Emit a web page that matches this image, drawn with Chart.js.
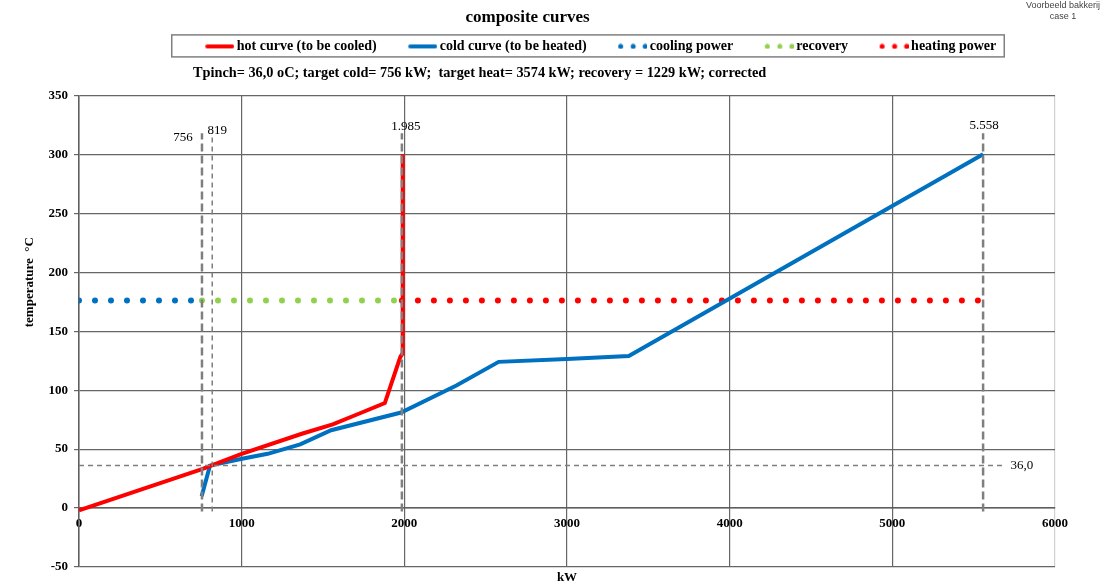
<!DOCTYPE html>
<html>
<head>
<meta charset="utf-8">
<title>composite curves</title>
<script src="https://cdn.jsdelivr.net/npm/chart.js@4.4.1/dist/chart.umd.min.js"></script>
<style>
  html, body { margin: 0; padding: 0; background: #fff; }
  #wrap { width: 1115px; height: 585px; }
</style>
</head>
<body>
<div id="wrap"><canvas id="compositeChart" width="1115" height="585"></canvas></div>
<script>
/* ── composite curves (pinch analysis) ─────────────────── */

const TITLE    = 'composite curves';
const SUBTITLE = 'Tpinch= 36,0 oC; target cold= 756 kW;  target heat= 3574 kW; recovery = 1229 kW; corrected';
const NOTE     = ['Voorbeeld bakkerij', 'case 1'];
const X_TITLE  = 'kW';
const Y_TITLE  = 'temperature  °C';

const X_RANGE = [0, 6000];
const X_STEP  = 1000;
const Y_RANGE = [-50, 350];
const Y_STEP  = 50;

const SERIES_LABELS = [
  'hot curve (to be cooled)', 'cold curve (to be heated)',
  'cooling power', 'recovery', 'heating power',
];

// hot composite curve
const HOT_KW = [0, 756, 1000, 1370, 1560, 1720, 1880, 1975, 1988, 1990];
const HOT_T  = [-2, 33, 46, 63, 71, 80, 89, 128, 131, 300];

// cold composite curve
const COLD_KW = [754, 805, 1010, 1160, 1360, 1550, 1980, 2320, 2580, 3000, 3380, 5558];
const COLD_T  = [10, 36, 42, 46, 54, 66, 81, 104, 124, 126.5, 129, 300];

// duty bars (dotted)
const DUTY_T      = 176;
const COOLING_KW  = [0, 756];
const RECOVERY_KW = [756, 1985];
const HEATING_KW  = [1985, 5558];

// pinch + target markers
const PINCH_T       = 36;
const PINCH_KW      = [0, 5690];
const PINCH_LABEL   = '36,0';
const MARKER_KW     = [756, 819, 1985, 5558];
const MARKER_LABELS = ['756', '819', '1.985', '5.558'];
const MARKER_T      = [-3, 318];

const C = {
  red:   '#ff0000',
  blue:  '#0070c0',
  green: '#92d050',
  gray:  '#7f7f7f',
  grid:  '#666666',
  frame: '#d0d0d0',
};
const SERIF = "'Liberation Serif', 'Times New Roman', serif";
const SANS  = "'Liberation Sans', Arial, sans-serif";

// legend icon geometry
const ICON_BOX = 46;

const pts = (xs, ys) => xs.map((x, i) => ({ x, y: ys[i] }));
const flat = (xs, v) => xs.map(x => ({ x, y: v }));

function legendIcon(color, dotted) {
  const c = document.createElement('canvas');
  c.width = ICON_BOX + 9; c.height = 6;
  const g = c.getContext('2d');
  const x0 = c.width - 29;
  g.fillStyle = color; g.strokeStyle = color;
  if (dotted) {
    [2.5, 15, 27].forEach(dx => { g.beginPath(); g.arc(x0 + dx, 3, 2.5, 0, Math.PI * 2); g.fill(); });
  } else {
    g.lineWidth = 4; g.lineCap = 'round';
    g.beginPath(); g.moveTo(x0 + 2, 3); g.lineTo(x0 + 27, 3); g.stroke();
  }
  return c;
}
const ICONS = [
  legendIcon(C.red, false), legendIcon(C.blue, false),
  legendIcon(C.blue, true), legendIcon(C.green, true), legendIcon(C.red, true),
];

function dots(label, xs, color) {
  return {
    label, data: flat(xs, DUTY_T), borderColor: color, backgroundColor: color,
    borderWidth: 6, borderDash: [0, 16], borderCapStyle: 'round', pointRadius: 0, order: 2,
  };
}
function marker(data, thick) {
  return {
    label: '', data, borderColor: C.gray, pointRadius: 0, order: 0,
    borderWidth: thick ? 2.5 : 1.5, borderDash: thick ? [8, 4] : [5, 4],
  };
}

const datasets = [
  { label: SERIES_LABELS[0], data: pts(HOT_KW, HOT_T), borderColor: C.red, borderWidth: 4, pointRadius: 0, order: 1 },
  { label: SERIES_LABELS[1], data: pts(COLD_KW, COLD_T), borderColor: C.blue, borderWidth: 4, pointRadius: 0, order: 1 },
  dots(SERIES_LABELS[2], COOLING_KW, C.blue),
  dots(SERIES_LABELS[3], RECOVERY_KW, C.green),
  dots(SERIES_LABELS[4], HEATING_KW, C.red),
  marker(flat(PINCH_KW, PINCH_T), false),
  ...MARKER_KW.map((kw, i) => marker(flat(MARKER_T, kw).map(p => ({ x: p.y, y: p.x })), i !== 1)),
];

// ── reserve room below the legend for the target line,
//    and nudge the legend a bit right like the original ──
const legendGap = {
  id: 'legendGap',
  beforeInit(chart) {
    const fit = chart.legend.fit;
    chart.legend.fit = function () { fit.call(this); this.height += 32; };
  },
  afterLayout(chart) {
    chart.legend.left += 23;
    chart.legend.right += 23;
  },
};

// ── texts and legend frame ──────────────────────────────
const annotations = {
  id: 'annotations',
  afterDraw(chart) {
    const { ctx, scales: { x, y }, legend, chartArea } = chart;
    ctx.save();

    // legend frame
    const hb = legend.legendHitBoxes;
    const last = hb[hb.length - 1];
    const fx = hb[0].left - 12, fy = hb[0].top - 4.5;
    ctx.strokeStyle = '#808080'; ctx.lineWidth = 1.5;
    ctx.strokeRect(fx, fy, last.left + last.width + 8 - fx, 22);

    // target line under the legend
    ctx.fillStyle = '#000'; ctx.textBaseline = 'middle'; ctx.textAlign = 'left';
    ctx.font = `bold 14.3px ${SERIF}`;
    ctx.fillText(SUBTITLE, 193, fy + 38);

    // y axis title
    ctx.save();
    ctx.font = `bold 13px ${SERIF}`;
    ctx.translate(30, (chartArea.top + chartArea.bottom) / 2 - 49);
    ctx.rotate(-Math.PI / 2);
    ctx.textAlign = 'center';
    ctx.fillText(Y_TITLE, 0, 0);
    ctx.restore();

    // marker labels
    ctx.font = `13px ${SERIF}`;
    const dx = [-19, 5, 4, 1], dy = [4, -3, -7, -8];
    MARKER_KW.forEach((kw, i) => {
      ctx.textAlign = 'center';
      ctx.fillText(MARKER_LABELS[i], x.getPixelForValue(kw) + dx[i], y.getPixelForValue(MARKER_T[1]) + dy[i]);
    });
    ctx.textAlign = 'left';
    ctx.fillText(PINCH_LABEL, x.getPixelForValue(PINCH_KW[1]) + 6, y.getPixelForValue(PINCH_T));

    // corner note
    ctx.font = `9px ${SANS}`; ctx.fillStyle = '#444'; ctx.textAlign = 'center';
    NOTE.forEach((t, i) => ctx.fillText(t, 1063, 6 + i * 11));

    ctx.restore();
  },
};

new Chart(document.getElementById('compositeChart'), {
  type: 'line',
  data: { datasets },
  plugins: [legendGap, annotations],
  options: {
    responsive: false,
    animation: false,
    events: [],
    layout: { padding: { top: 0, left: 0, right: 60, bottom: 0 } },
    elements: { line: { tension: 0, fill: false } },
    plugins: {
      title: {
        display: true, text: TITLE, color: '#000',
        font: { family: SERIF, size: 17, weight: 'bold' },
        padding: { top: 7, bottom: 2 },
      },
      legend: {
        display: true, position: 'top', fullSize: false,
        labels: {
          usePointStyle: true, pointStyleWidth: ICON_BOX, padding: 10, color: '#000',
          font: { family: SERIF, size: 14, weight: 'bold' },
          generateLabels: chart => chart.data.datasets.slice(0, 5).map((ds, i) => ({
            text: ds.label, pointStyle: ICONS[i], datasetIndex: i, hidden: false,
            fillStyle: 'transparent', strokeStyle: 'transparent', lineWidth: 0, fontColor: '#000',
          })),
        },
      },
      tooltip: { enabled: false },
    },
    scales: {
      x: {
        type: 'linear', position: { y: 0 },
        min: X_RANGE[0], max: X_RANGE[1],
        afterFit: s => { s.height = 0; },
        grid: {
          drawTicks: false, lineWidth: 1.2,
          color: c => (c.tick && c.tick.value === X_RANGE[1] ? C.frame : C.grid),
        },
        border: { display: true, color: '#5e5e5e', width: 1.5 },
        ticks: {
          stepSize: X_STEP, padding: 8, color: '#000',
          font: { family: SERIF, size: 13, weight: 'bold' },
          callback: v => String(v),
        },
      },
      x2: {
        type: 'linear', position: 'bottom', min: X_RANGE[0], max: X_RANGE[1],
        grid: { display: false, drawTicks: false },
        border: { display: false },
        ticks: { display: false },
        title: {
          display: true, text: X_TITLE, color: '#000',
          font: { family: SERIF, size: 13, weight: 'bold' },
          padding: { top: 2.4, bottom: 0 },
        },
      },
      y: {
        type: 'linear', position: 'left',
        min: Y_RANGE[0], max: Y_RANGE[1],
        afterFit: s => { s.width = 79; },
        grid: { color: C.grid, lineWidth: 1.2, tickLength: 5 },
        border: { display: true, color: '#5e5e5e', width: 1.5 },
        ticks: {
          stepSize: Y_STEP, padding: 6, color: '#000',
          font: { family: SERIF, size: 13, weight: 'bold' },
        },
      },
    },
  },
});
</script>
</body>
</html>
